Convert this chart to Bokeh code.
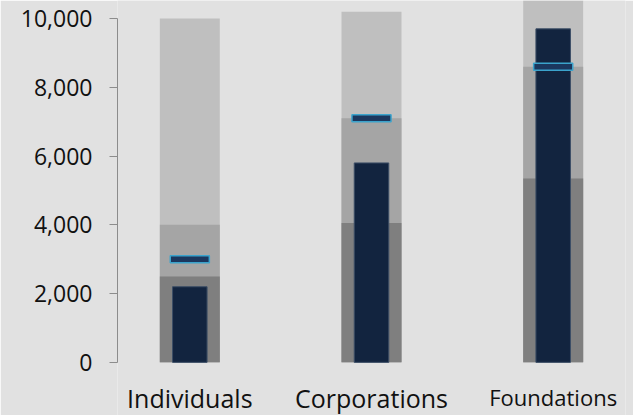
from bokeh.plotting import figure
from bokeh.models import FactorRange, Range1d, FixedTicker, NumeralTickFormatter, ColumnDataSource
from bokeh.core.properties import value
from bokeh.embed import file_html
from bokeh.resources import INLINE

categories = ["Individuals", "Corporations", "Foundations"]
poor = [2500, 4050, 5350]          # dark band top
satisfactory = [4000, 7100, 8600]  # middle band top
good = [10000, 10200, 11000]       # light band top
actual = [2200, 5800, 9700]
target = [3000, 7100, 8600]
y_ticks = [0, 2000, 4000, 6000, 8000, 10000]

src = ColumnDataSource(dict(cat=categories, poor=poor, sat=satisfactory,
                            good=good, actual=actual, target=target,
                            fsize=["25px", "25px", "22px"], yoff=[36, 36, 35]))

p = figure(width=633, height=415, output_backend="svg", toolbar_location=None,
           x_range=FactorRange(*categories, range_padding=-0.102, range_padding_units="absolute"),
           y_range=Range1d(-1545, 10524),
           min_border_left=117, min_border_right=8, min_border_top=0, min_border_bottom=0)

bg = "#e1e1e1"
p.background_fill_color = bg
p.border_fill_color = bg
p.outline_line_color = None
p.xgrid.visible = False
p.ygrid.visible = False

p.vbar(x="cat", top="good", bottom=0, width=0.33, source=src, fill_color="#bfbfbf", line_color=None)
p.vbar(x="cat", top="sat", bottom=0, width=0.33, source=src, fill_color="#a5a5a5", line_color=None)
p.vbar(x="cat", top="poor", bottom=0, width=0.33, source=src, fill_color="#7f7f7f", line_color=None)
p.vbar(x="cat", top="actual", bottom=0, width=0.19, source=src, fill_color="#12243f",
       line_color="#3c4e66", line_width=1)
p.rect(x="cat", y="target", width=0.215, height=7, height_units="screen", source=src,
       fill_color="#1b375e", line_color="#3ba3cc", line_width=1.5)

# category labels below the bars
p.text(x="cat", y=0, text="cat", y_offset="yoff", source=src,
       text_font=value("Open Sans"), text_font_size="fsize", text_color="#111111",
       text_align="center", text_baseline="alphabetic")

ya = p.yaxis[0]
ya.ticker = FixedTicker(ticks=y_ticks)
ya.formatter = NumeralTickFormatter(format="0,0")
ya.bounds = (0, 10000)
ya.axis_line_color = "#8c8c8c"
ya.major_tick_line_color = "#8c8c8c"
ya.major_tick_out = 8
ya.major_tick_in = 0
ya.minor_tick_line_color = None
ya.major_label_standoff = 17
ya.major_label_text_font = "Open Sans"
ya.major_label_text_font_size = "23px"
ya.major_label_text_color = "#111111"

p.xaxis.visible = False

open("out.html", "w").write(file_html(p, INLINE))
